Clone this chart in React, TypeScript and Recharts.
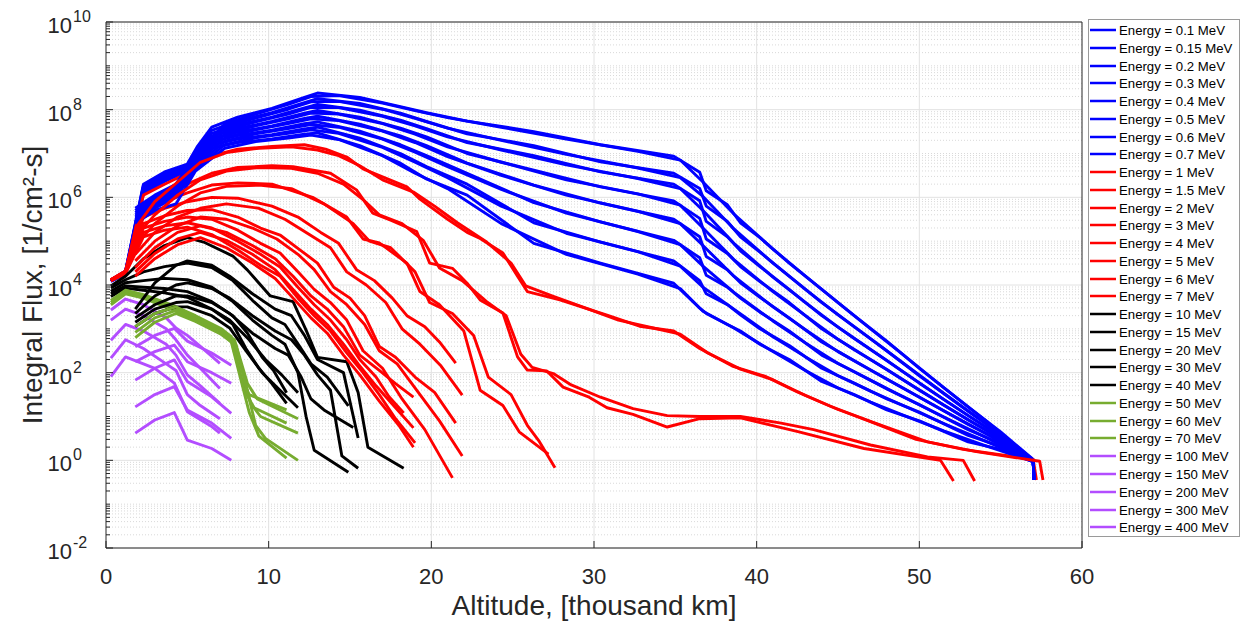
import React from "react";
import { LineChart, Line, XAxis, YAxis, CartesianGrid, ReferenceArea } from "recharts";

type Pt = [number, number];

// legend order (first set of curves)
const ENERGIES = ["0.1", "0.15", "0.2", "0.3", "0.4", "0.5", "0.6", "0.7", "1", "1.5", "2", "3", "4", "5", "6", "7", "10", "15", "20", "30", "40", "50", "60", "70", "100", "150", "200", "300", "400"];

const BLUE = "#0000ff";
const RED = "#ff0000";
const BLACK = "#000000";
const GREEN = "#77ac30";
const PURPLE = "#b34dff";
const COLORS = [
  BLUE, BLUE, BLUE, BLUE, BLUE, BLUE, BLUE, BLUE,
  RED, RED, RED, RED, RED, RED, RED, RED,
  BLACK, BLACK, BLACK, BLACK, BLACK,
  GREEN, GREEN, GREEN,
  PURPLE, PURPLE, PURPLE, PURPLE, PURPLE,
];

const X_TICKS = [0, 10, 20, 30, 40, 50, 60];

// ---- blue (0.1 .. 0.7 MeV), log10 flux per altitude row, one column per energy
const BLUE_ALT_A = [0.3, 1.2, 2.3, 3.6, 5.0, 5.6, 6.5, 8.1, 10.2, 12.2, 13.0, 15.6, 18.1, 19.7, 22.2, 26.3, 30.4, 34.9, 36.5, 36.9, 38.2, 39.0, 40.2, 42, 44, 46, 48, 50, 53, 55, 57, 57.05];
const BLUE_LOG_A = [
  [4.12, 4.11, 4.11, 4.10, 4.10, 4.09, 4.09, 4.08],
  [4.32, 4.31, 4.30, 4.29, 4.28, 4.27, 4.26, 4.25],
  [6.30, 6.27, 6.24, 6.21, 6.18, 6.15, 6.12, 6.08],
  [6.58, 6.55, 6.52, 6.49, 6.46, 6.43, 6.40, 6.36],
  [6.76, 6.74, 6.72, 6.70, 6.68, 6.66, 6.64, 6.60],
  [7.15, 7.10, 7.05, 7.00, 6.95, 6.90, 6.85, 6.80],
  [7.60, 7.53, 7.46, 7.40, 7.33, 7.26, 7.19, 7.12],
  [7.83, 7.74, 7.65, 7.57, 7.49, 7.41, 7.33, 7.25],
  [8.03, 7.93, 7.83, 7.73, 7.63, 7.53, 7.43, 7.33],
  [8.28, 8.16, 8.04, 7.92, 7.80, 7.68, 7.56, 7.44],
  [8.38, 8.25, 8.12, 7.98, 7.85, 7.72, 7.60, 7.47],
  [8.28, 8.14, 7.99, 7.83, 7.67, 7.51, 7.35, 7.18],
  [8.07, 7.92, 7.76, 7.58, 7.40, 7.20, 7.00, 6.78],
  [7.93, 7.73, 7.57, 7.38, 7.18, 6.95, 6.70, 6.42],
  [7.74, 7.45, 7.25, 7.00, 6.78, 6.55, 6.30, 6.05],
  [7.50, 7.18, 6.95, 6.62, 6.28, 5.88, 5.42, 4.95],
  [7.20, 6.81, 6.58, 6.24, 5.87, 5.44, 4.98, 4.50],
  [6.94, 6.55, 6.30, 5.92, 5.50, 5.02, 4.55, 4.04],
  [6.57, 6.20, 5.92, 5.52, 5.10, 4.62, 4.10, 3.47],
  [6.15, 5.80, 5.45, 5.05, 4.65, 4.22, 3.80, 3.35],
  [5.83, 5.45, 5.10, 4.72, 4.35, 3.95, 3.55, 3.10],
  [5.42, 5.10, 4.78, 4.42, 4.05, 3.70, 3.32, 2.95],
  [5.08, 4.75, 4.42, 4.08, 3.72, 3.38, 3.00, 2.65],
  [4.50, 4.20, 3.90, 3.60, 3.25, 2.95, 2.62, 2.30],
  [3.90, 3.60, 3.30, 3.00, 2.70, 2.40, 2.10, 1.80],
  [3.30, 3.05, 2.78, 2.52, 2.27, 2.02, 1.76, 1.50],
  [2.72, 2.50, 2.28, 2.07, 1.85, 1.63, 1.40, 1.15],
  [2.10, 1.93, 1.76, 1.60, 1.44, 1.27, 1.10, 0.90],
  [1.22, 1.12, 1.02, 0.92, 0.82, 0.70, 0.57, 0.42],
  [0.65, 0.60, 0.55, 0.50, 0.44, 0.38, 0.32, 0.25],
  [0.02, 0.01, 0.00, 0.00, 0.00, -0.01, -0.02, -0.03],
  [-0.45, -0.45, -0.45, -0.45, -0.45, -0.45, -0.45, -0.45],
];
const BLUE_ALT_B = [1.8, 3.0, 4.3, 5.5, 7.3, 9.2, 11.2, 12.6, 14.3, 17.0, 19.0, 21.0, 24.3, 28.3, 32.7, 35.3, 36.7, 38.6, 41.0, 43.0, 45.0, 47.0, 49.0, 51.5, 54.0, 57.0, 57.05];
const BLUE_LOG_B = [
  [5.75, 5.70, 5.65, 5.60, 5.55, 5.50, 5.45, 5.40],
  [6.05, 6.00, 5.95, 5.90, 5.85, 5.80, 5.75, 5.70],
  [6.30, 6.25, 6.20, 6.15, 6.10, 6.05, 6.00, 5.85],
  [6.95, 6.90, 6.85, 6.80, 6.75, 6.70, 6.65, 6.60],
  [7.68, 7.60, 7.52, 7.44, 7.36, 7.28, 7.20, 7.12],
  [7.90, 7.81, 7.72, 7.63, 7.54, 7.45, 7.36, 7.27],
  [8.12, 8.01, 7.90, 7.79, 7.68, 7.57, 7.46, 7.35],
  [8.30, 8.18, 8.05, 7.92, 7.79, 7.66, 7.54, 7.42],
  [8.32, 8.19, 8.05, 7.90, 7.75, 7.60, 7.46, 7.32],
  [8.15, 8.01, 7.85, 7.68, 7.51, 7.33, 7.14, 6.95],
  [7.98, 7.80, 7.63, 7.44, 7.25, 7.03, 6.80, 6.55],
  [7.82, 7.58, 7.38, 7.15, 6.93, 6.70, 6.45, 6.20],
  [7.60, 7.30, 7.08, 6.80, 6.50, 6.18, 5.80, 5.40],
  [7.33, 6.98, 6.74, 6.40, 6.05, 5.64, 5.18, 4.70],
  [7.05, 6.67, 6.43, 6.08, 5.68, 5.22, 4.76, 4.25],
  [6.85, 6.45, 6.20, 5.82, 5.40, 4.92, 4.43, 3.92],
  [6.35, 6.02, 5.70, 5.30, 4.90, 4.43, 3.95, 3.40],
  [5.62, 5.28, 4.95, 4.58, 4.20, 3.83, 3.45, 3.02],
  [4.82, 4.50, 4.18, 3.85, 3.50, 3.18, 2.82, 2.48],
  [4.20, 3.90, 3.60, 3.30, 2.98, 2.68, 2.36, 2.05],
  [3.60, 3.32, 3.04, 2.76, 2.48, 2.21, 1.93, 1.65],
  [3.00, 2.77, 2.53, 2.30, 2.06, 1.83, 1.58, 1.33],
  [2.41, 2.22, 2.02, 1.84, 1.65, 1.45, 1.25, 1.03],
  [1.66, 1.53, 1.39, 1.26, 1.13, 0.99, 0.84, 0.67],
  [0.93, 0.86, 0.78, 0.71, 0.63, 0.54, 0.45, 0.34],
  [0.00, 0.00, -0.01, -0.01, -0.02, -0.02, -0.03, -0.03],
  [-0.45, -0.45, -0.45, -0.45, -0.45, -0.45, -0.45, -0.45],
];

// ---- red (1 .. 7 MeV): [altitude, log10 flux]
const RED_A: Pt[][] = [
  [[0.3, 4.12], [1.2, 4.32], [2.3, 6.05], [3.6, 6.3], [5.0, 6.55], [6.5, 6.95], [8.1, 7.1], [10.2, 7.16], [12.2, 7.2], [13.5, 7.1], [14.8, 6.92], [15.8, 6.65], [18.5, 6.24], [19.3, 5.96], [21.0, 5.5], [22.2, 5.2], [23.0, 5.06], [24.4, 4.73], [25.3, 4.2], [25.9, 3.85], [27.9, 3.66], [30.8, 3.31], [32.8, 3.06], [34.9, 2.95], [36.5, 2.55], [38.5, 2.15], [40.5, 1.92], [42.5, 1.56], [44.5, 1.24], [46.6, 0.94], [49.8, 0.48], [52.7, 0.25], [57.0, 0.02], [57.2, -0.45]],
  [[0.3, 4.12], [1.2, 4.32], [2.3, 5.85], [3.6, 6.05], [5.0, 6.3], [6.5, 6.55], [8.1, 6.68], [10.2, 6.72], [11.5, 6.7], [13.8, 6.55], [15.4, 6.17], [16.4, 5.64], [17.5, 5.48], [19.1, 5.22], [19.9, 4.5], [21.3, 4.38], [22.2, 4.04], [23.0, 3.66], [24.4, 3.36], [25.3, 2.36], [25.9, 2.06], [27.1, 2.04], [28.1, 1.67], [29.7, 1.44], [30.8, 1.2], [32.4, 1.05], [34.5, 0.76], [36.5, 0.95], [39.0, 0.97], [42.6, 0.65], [46.6, 0.27], [51.3, 0.0], [52.1, -0.47]],
  [[0.3, 4.12], [1.2, 4.31], [2.3, 5.7], [3.6, 5.9], [5.0, 6.1], [6.5, 6.28], [8.1, 6.33], [10.2, 6.3], [12.7, 6.0], [14.8, 5.55], [15.8, 5.05], [16.8, 4.96], [18.5, 4.5], [19.3, 3.85], [20.5, 3.55], [22.0, 2.95], [23.0, 1.6], [24.4, 1.25], [25.4, 0.65], [27.2, 0.14]],
  [[0.3, 4.12], [1.2, 4.3], [2.3, 5.55], [3.6, 5.75], [5.0, 5.9], [6.5, 6.0], [8.1, 5.98], [10.2, 5.8], [11.8, 5.55], [13.2, 5.2], [14.3, 4.95], [15.4, 4.35], [16.5, 4.1], [17.6, 3.7], [18.5, 3.3], [19.6, 3.05], [20.5, 2.7], [21.5, 2.22]],
  [[0.3, 4.11], [1.2, 4.29], [2.3, 5.4], [3.6, 5.58], [5.0, 5.7], [6.5, 5.72], [8.1, 5.55], [9.5, 5.3], [10.7, 5.14], [12.0, 4.78], [13.0, 4.5], [14.0, 3.95], [15.0, 3.7], [15.9, 3.3], [16.8, 2.6], [17.8, 2.35], [19.0, 1.9], [20.2, 1.55], [21.5, 0.85]],
  [[0.3, 4.11], [1.2, 4.28], [2.3, 5.3], [3.6, 5.45], [5.0, 5.55], [6.5, 5.5], [8.1, 5.25], [9.5, 4.95], [10.7, 4.73], [11.8, 4.3], [12.8, 3.9], [13.8, 3.6], [14.8, 3.2], [15.8, 2.5], [17.0, 2.1], [18.2, 1.4], [19.6, 0.7], [21.3, -0.4]],
  [[0.3, 4.1], [1.2, 4.27], [2.3, 5.2], [3.6, 5.35], [5.0, 5.42], [6.5, 5.3], [8.1, 5.0], [9.5, 4.7], [10.7, 4.41], [11.8, 3.95], [12.8, 3.55], [13.8, 3.2], [14.8, 2.75], [15.6, 2.3], [16.6, 1.9], [17.4, 1.45], [18.3, 1.08]],
  [[0.3, 4.1], [1.2, 4.26], [2.3, 5.1], [3.6, 5.25], [5.0, 5.32], [6.5, 5.15], [8.1, 4.8], [9.5, 4.45], [10.7, 4.2], [11.8, 3.7], [12.8, 3.3], [13.8, 2.95], [14.8, 2.45], [15.8, 2.0], [16.8, 1.5], [17.8, 0.95], [19.0, 0.4]],
];
const RED_B: Pt[][] = [
  [[1.8, 5.3], [3.0, 5.9], [4.4, 6.35], [5.8, 6.8], [7.4, 7.02], [9.4, 7.12], [11.4, 7.15], [13.0, 7.08], [14.3, 6.95], [15.6, 6.72], [17.0, 6.4], [18.9, 6.12], [20.2, 5.8], [21.6, 5.42], [23.4, 4.98], [24.9, 4.5], [25.8, 3.98], [27.5, 3.74], [29.5, 3.47], [31.5, 3.2], [33.5, 3.03], [35.3, 2.88], [37.0, 2.45], [39.0, 2.08], [41.0, 1.84], [43.0, 1.48], [45.0, 1.16], [47.5, 0.82], [50.5, 0.42], [53.5, 0.2], [57.4, -0.02], [57.6, -0.45]],
  [[1.8, 5.1], [3.0, 5.6], [4.4, 6.05], [5.8, 6.4], [7.4, 6.6], [9.4, 6.68], [11.4, 6.66], [13.0, 6.55], [14.6, 6.3], [15.8, 5.95], [16.8, 5.6], [18.2, 5.4], [19.5, 5.02], [20.5, 4.39], [21.9, 4.1], [23.4, 3.62], [24.6, 3.3], [25.5, 2.42], [26.2, 2.12], [27.5, 1.98], [28.6, 1.72], [30.4, 1.44], [32.4, 1.18], [34.5, 1.02], [36.5, 1.0], [39.0, 1.0], [41.5, 0.85], [43.5, 0.7], [47.0, 0.35], [50.5, 0.08], [52.7, 0.0], [53.4, -0.47]],
  [[1.8, 4.9], [3.0, 5.4], [4.4, 5.8], [5.8, 6.1], [7.4, 6.25], [9.4, 6.28], [11.4, 6.2], [13.4, 5.85], [15.2, 5.4], [16.2, 5.0], [17.5, 4.85], [19.0, 4.3], [19.9, 3.6], [21.3, 3.35], [22.6, 2.85], [23.5, 1.9], [24.9, 1.5], [25.9, 0.8], [26.6, 0.45], [27.6, -0.17]],
  [[1.8, 4.7], [3.0, 5.2], [4.4, 5.55], [5.8, 5.75], [7.4, 5.85], [9.4, 5.75], [11.0, 5.5], [12.5, 5.15], [13.8, 4.85], [14.8, 4.3], [16.0, 4.0], [17.2, 3.6], [18.2, 3.0], [19.3, 2.65], [20.6, 2.15], [21.9, 1.49]],
  [[1.8, 4.55], [3.0, 5.0], [4.4, 5.35], [5.8, 5.55], [7.4, 5.5], [9.0, 5.3], [10.5, 5.05], [11.8, 4.7], [12.8, 4.35], [13.8, 3.85], [14.8, 3.55], [15.9, 3.1], [16.8, 2.5], [17.9, 2.2], [19.2, 1.55], [20.5, 0.9], [21.9, 0.1]],
  [[1.8, 4.4], [3.0, 4.85], [4.4, 5.2], [5.8, 5.35], [7.4, 5.2], [9.0, 4.9], [10.4, 4.6], [11.5, 4.2], [12.6, 3.75], [13.6, 3.45], [14.6, 3.05], [15.6, 2.4], [16.8, 2.05], [17.8, 1.75], [18.9, 1.44]],
  [[1.8, 4.3], [3.0, 4.72], [4.4, 5.05], [5.8, 5.2], [7.4, 5.02], [9.0, 4.7], [10.4, 4.35], [11.5, 3.9], [12.6, 3.45], [13.6, 3.1], [14.6, 2.65], [15.5, 2.2], [16.6, 1.7], [17.8, 1.2], [18.9, 0.74]],
  [[1.8, 4.2], [3.0, 4.6], [4.4, 4.92], [5.8, 5.08], [7.4, 4.85], [9.0, 4.5], [10.4, 4.15], [11.5, 3.7], [12.6, 3.25], [13.6, 2.9], [14.6, 2.4], [15.6, 1.95], [16.8, 1.35], [18.0, 0.8], [18.9, 0.3]],
];

// ---- black (10 .. 40 MeV)
const BLACK_A: Pt[][] = [
  [[0.3, 3.98], [1.2, 4.2], [2.3, 4.6], [3.6, 4.9], [5.0, 5.08], [6.0, 4.98], [7.8, 4.66], [8.7, 4.34], [10.1, 3.75], [11.5, 3.62], [12.3, 2.97], [13.0, 2.35], [14.8, 2.25], [15.5, 1.55], [16.1, 0.3], [18.3, -0.18]],
  [[0.3, 3.93], [1.2, 4.12], [2.3, 4.3], [3.6, 4.42], [5.0, 4.5], [6.5, 4.4], [7.8, 4.1], [9.0, 3.65], [10.2, 3.25], [11.0, 3.1], [11.9, 2.6], [12.6, 2.2], [13.6, 1.9], [14.9, 1.24]],
  [[0.3, 3.86], [1.2, 4.05], [2.3, 4.1], [3.6, 4.15], [5.0, 4.12], [6.5, 3.95], [7.8, 3.62], [9.0, 3.2], [10.2, 2.85], [11.0, 2.65], [11.8, 2.0], [12.3, 1.0], [12.8, 0.23], [14.9, -0.27]],
  [[0.3, 3.8], [1.2, 3.98], [2.3, 3.95], [3.6, 3.92], [5.0, 3.85], [6.5, 3.62], [7.8, 3.3], [8.7, 2.9], [9.6, 2.35], [10.3, 2.05], [11.1, 1.54]],
  [[0.3, 3.74], [1.2, 3.93], [2.3, 3.88], [3.6, 3.82], [5.0, 3.72], [6.5, 3.45], [7.8, 3.1], [8.6, 2.55], [9.4, 2.1], [10.2, 1.75], [11.1, 1.3]],
];
const BLACK_B: Pt[][] = [
  [[1.8, 3.45], [3.0, 4.05], [4.3, 4.45], [5.0, 4.55], [6.5, 4.45], [7.6, 4.2], [9.0, 3.8], [10.4, 3.45], [11.4, 3.3], [12.2, 2.85], [13.0, 2.3], [14.6, 2.0], [15.5, 0.51]],
  [[1.8, 3.35], [3.0, 3.75], [4.3, 4.0], [5.0, 4.05], [6.5, 3.92], [7.6, 3.7], [9.0, 3.3], [10.4, 2.95], [11.4, 2.75], [12.2, 2.4], [13.0, 1.95], [13.8, 1.6], [14.5, 0.1], [15.5, -0.18]],
  [[1.8, 3.25], [3.0, 3.55], [4.3, 3.75], [5.0, 3.75], [6.5, 3.6], [7.6, 3.35], [9.0, 2.9], [10.4, 2.55], [11.2, 2.4], [12.0, 1.9], [12.6, 1.4], [13.4, 1.15], [15.2, 0.75]],
  [[1.8, 3.15], [3.0, 3.45], [4.3, 3.6], [5.0, 3.62], [6.5, 3.45], [7.6, 3.2], [8.8, 2.75], [9.8, 2.3], [10.8, 1.95], [11.8, 1.54]],
  [[1.8, 3.05], [3.0, 3.35], [4.3, 3.5], [5.0, 3.5], [6.5, 3.3], [7.6, 3.02], [8.6, 2.5], [9.6, 2.0], [10.7, 1.6], [11.8, 1.2]],
];

// ---- green (50 .. 70 MeV)
const GREEN_A: Pt[][] = [
  [[0.3, 3.65], [1.2, 3.88], [2.3, 3.78], [4.0, 3.55], [5.5, 3.3], [7.1, 3.0], [7.7, 2.82], [8.3, 1.9], [8.8, 1.5], [11.1, 1.15]],
  [[0.3, 3.6], [1.2, 3.84], [2.3, 3.74], [4.0, 3.5], [5.5, 3.25], [7.1, 2.95], [7.7, 2.76], [8.5, 1.6], [9.1, 1.2], [11.1, 0.85]],
  [[0.3, 3.55], [1.2, 3.8], [2.3, 3.7], [4.0, 3.45], [5.5, 3.2], [7.1, 2.9], [7.7, 2.7], [8.8, 1.1], [9.4, 0.55], [11.1, 0.05]],
];
const GREEN_B: Pt[][] = [
  [[1.8, 3.05], [3.0, 3.35], [4.3, 3.5], [5.5, 3.28], [7.1, 2.97], [7.9, 2.75], [8.7, 1.75], [9.3, 1.4], [11.8, 0.95]],
  [[1.8, 2.92], [3.0, 3.25], [4.3, 3.42], [5.5, 3.22], [7.1, 2.92], [7.9, 2.7], [8.9, 1.3], [9.5, 1.0], [11.8, 0.62]],
  [[1.8, 2.8], [3.0, 3.15], [4.3, 3.35], [5.5, 3.17], [7.1, 2.87], [8.0, 2.62], [9.2, 0.8], [9.8, 0.5], [11.8, 0.0]],
];

// ---- purple (100 .. 400 MeV)
const PURPLE_A: Pt[][] = [
  [[0.3, 3.43], [1.2, 3.68], [2.3, 3.55], [3.7, 3.25], [4.3, 3.02], [5.0, 2.85], [5.8, 2.6], [7.0, 2.21]],
  [[0.3, 3.2], [1.2, 3.45], [2.3, 3.3], [3.7, 3.0], [4.3, 2.75], [5.0, 2.4], [5.8, 2.1], [7.0, 1.64]],
  [[0.3, 2.74], [1.2, 3.1], [2.3, 2.95], [3.7, 2.65], [4.3, 2.4], [5.0, 1.95], [5.8, 1.7], [7.0, 1.3]],
  [[0.3, 2.33], [1.2, 2.75], [2.3, 2.55], [3.7, 2.2], [4.3, 2.05], [5.0, 1.5], [5.8, 1.25], [7.0, 0.95]],
  [[0.3, 1.91], [1.2, 2.36], [2.3, 2.2], [3.0, 2.1], [4.2, 1.76], [5.0, 1.11], [6.5, 0.77], [7.0, 0.62]],
];
const PURPLE_B: Pt[][] = [
  [[1.8, 2.59], [3.0, 2.85], [4.2, 3.01], [5.0, 2.72], [6.5, 2.45], [7.7, 2.17]],
  [[1.8, 2.25], [3.0, 2.48], [4.2, 2.63], [5.0, 2.25], [6.5, 2.0], [7.7, 1.76]],
  [[1.8, 1.83], [3.0, 2.1], [4.2, 2.29], [5.0, 1.8], [6.5, 1.45], [7.7, 1.07]],
  [[1.8, 1.22], [3.0, 1.5], [4.2, 1.68], [5.0, 1.15], [6.5, 0.85], [7.7, 0.5]],
  [[1.8, 0.62], [3.0, 0.92], [4.2, 1.09], [5.0, 0.46], [6.5, 0.27], [7.7, 0.0]],
];

const fromTable = (alts: number[], rows: number[][], col: number): Pt[] =>
  alts.map((a, k) => [a, rows[k][col]] as Pt);

const blueA = [0, 1, 2, 3, 4, 5, 6, 7].map((i) => fromTable(BLUE_ALT_A, BLUE_LOG_A, i));
const blueB = [0, 1, 2, 3, 4, 5, 6, 7].map((i) => fromTable(BLUE_ALT_B, BLUE_LOG_B, i));
const CURVES_A = [...blueA, ...RED_A, ...BLACK_A, ...GREEN_A, ...PURPLE_A];
const CURVES_B = [...blueB, ...RED_B, ...BLACK_B, ...GREEN_B, ...PURPLE_B];

const toData = (pts: Pt[]) => pts.map(([x, lg]) => ({ x, y: Math.pow(10, lg) }));
const SERIES = [
  ...CURVES_A.map((pts, i) => ({ id: `a${i}`, color: COLORS[i], data: toData(pts) })),
  ...CURVES_B.map((pts, i) => ({ id: `b${i}`, color: COLORS[i], data: toData(pts) })),
];

// log axis ticks: every m*10^n, labels only on even decades
const Y_TICKS: number[] = [];
for (let n = -2; n < 10; n++) for (let m = 1; m <= 9; m++) Y_TICKS.push(m * Math.pow(10, n));
Y_TICKS.push(1e10);
const isEvenDecade = (v: number) => {
  const e = Math.round(Math.log10(v));
  return Math.abs(v / Math.pow(10, e) - 1) < 1e-6 && e % 2 === 0;
};
const MAJOR_Y = Y_TICKS.filter(isEvenDecade);
const MINOR_Y = Y_TICKS.filter((v) => !isEvenDecade(v));

const FONT = '"Liberation Sans", Arial, Helvetica, sans-serif';
const AXIS = "#262626";

const LeftTick = ({ x, y, payload }: any) => {
  const v = payload.value;
  const ax = x + 10;
  const major = isEvenDecade(v);
  const exp = Math.round(Math.log10(v));
  return (
    <g>
      <line x1={ax} x2={ax + (major ? 7 : 4)} y1={y} y2={y} stroke={AXIS} strokeWidth={1} />
      {major && (
        <text x={72} y={y + 11} fontFamily={FONT} fill={AXIS}>
          <tspan x={72} textAnchor="end" fontSize={22}>10</tspan>
          <tspan x={73} dy={-11} fontSize={16}>{exp}</tspan>
        </text>
      )}
    </g>
  );
};

const RightTick = ({ x, y, payload }: any) => {
  const major = isEvenDecade(payload.value);
  return <line x1={x} x2={x - (major ? 7 : 4)} y1={y} y2={y} stroke={AXIS} strokeWidth={1} />;
};

const BottomTick = ({ x, y, payload }: any) => (
  <g>
    <line x1={x} x2={x} y1={y - 14} y2={y - 21} stroke={AXIS} strokeWidth={1} />
    <text x={x} y={y + 22} textAnchor="middle" fontSize={22} fontFamily={FONT} fill={AXIS}>
      {payload.value}
    </text>
  </g>
);

const TopTick = ({ x, y }: any) => (
  <line x1={x} x2={x} y1={y} y2={y + 7} stroke={AXIS} strokeWidth={1} />
);

function EnergyLegend() {
  return (
    <div
      style={{
        position: "absolute",
        left: 1088,
        top: 19,
        width: 152,
        height: 518,
        border: "1px solid #9a9a9a",
        background: "#fff",
        boxSizing: "border-box",
        fontFamily: FONT,
        fontSize: 13.2,
        color: "#000",
      }}
    >
      {ENERGIES.map((e, i) => (
        <div
          key={e}
          style={{
            position: "absolute",
            left: 1,
            top: Math.round(1 + i * 17.76),
            height: 18,
            display: "flex",
            alignItems: "center",
            whiteSpace: "nowrap",
          }}
        >
          <svg width={29} height={18} style={{ display: "block" }}>
            <line x1={0} x2={26} y1={9} y2={9} stroke={COLORS[i]} strokeWidth={2.5} />
          </svg>
          <span>Energy = {e} MeV</span>
        </div>
      ))}
    </div>
  );
}

export default function App() {
  return (
    <div style={{ position: "absolute", left: 0, top: 0, width: 1248, height: 630, background: "#fff" }}>
      <LineChart width={1248} height={630} margin={{ top: 22, right: 166, bottom: 52, left: 26 }}>
        <CartesianGrid vertical={false} horizontalValues={MINOR_Y} stroke="#d9d9d9" strokeDasharray="1 2" />
        <CartesianGrid horizontalValues={MAJOR_Y} verticalValues={[10, 20, 30, 40, 50]} stroke="#e2e2e2" />
        <XAxis
          dataKey="x"
          type="number"
          domain={[0, 60]}
          ticks={X_TICKS}
          interval={0}
          allowDataOverflow
          height={30}
          tickSize={0}
          tickMargin={14}
          axisLine={false}
          tick={<BottomTick />}
          label={{ value: "Altitude, [thousand km]", position: "bottom", offset: 17, style: { fontSize: 28, fontFamily: FONT, fill: AXIS } }}
        />
        <XAxis xAxisId="t" orientation="top" type="number" domain={[0, 60]} ticks={X_TICKS} interval={0} height={0} tickSize={0} tickMargin={0} axisLine={false} tick={<TopTick />} />
        <YAxis
          type="number"
          scale="log"
          domain={[0.01, 1e10]}
          ticks={Y_TICKS}
          interval={0}
          allowDataOverflow
          width={80}
          tickSize={0}
          tickMargin={10}
          axisLine={false}
          tick={<LeftTick />}
          label={{ value: "Integral Flux, [1/cm²-s]", angle: -90, position: "insideLeft", offset: 6, style: { textAnchor: "middle", fontSize: 28, fontFamily: FONT, fill: AXIS } }}
        />
        <YAxis yAxisId="r" orientation="right" type="number" scale="log" domain={[0.01, 1e10]} ticks={Y_TICKS} interval={0} allowDataOverflow width={0} tickSize={0} tickMargin={0} axisLine={false} tick={<RightTick />} />
        <ReferenceArea x1={0} x2={60} y1={0.01} y2={1e10} fill="none" fillOpacity={0} stroke={AXIS} strokeWidth={1} ifOverflow="visible" />
        {SERIES.map((s) => (
          <Line
            key={s.id}
            data={s.data}
            dataKey="y"
            type="linear"
            stroke={s.color}
            strokeWidth={2.9}
            strokeLinejoin="round"
            dot={false}
            activeDot={false}
            legendType="none"
            isAnimationActive={false}
          />
        ))}
      </LineChart>
      <EnergyLegend />
    </div>
  );
}
